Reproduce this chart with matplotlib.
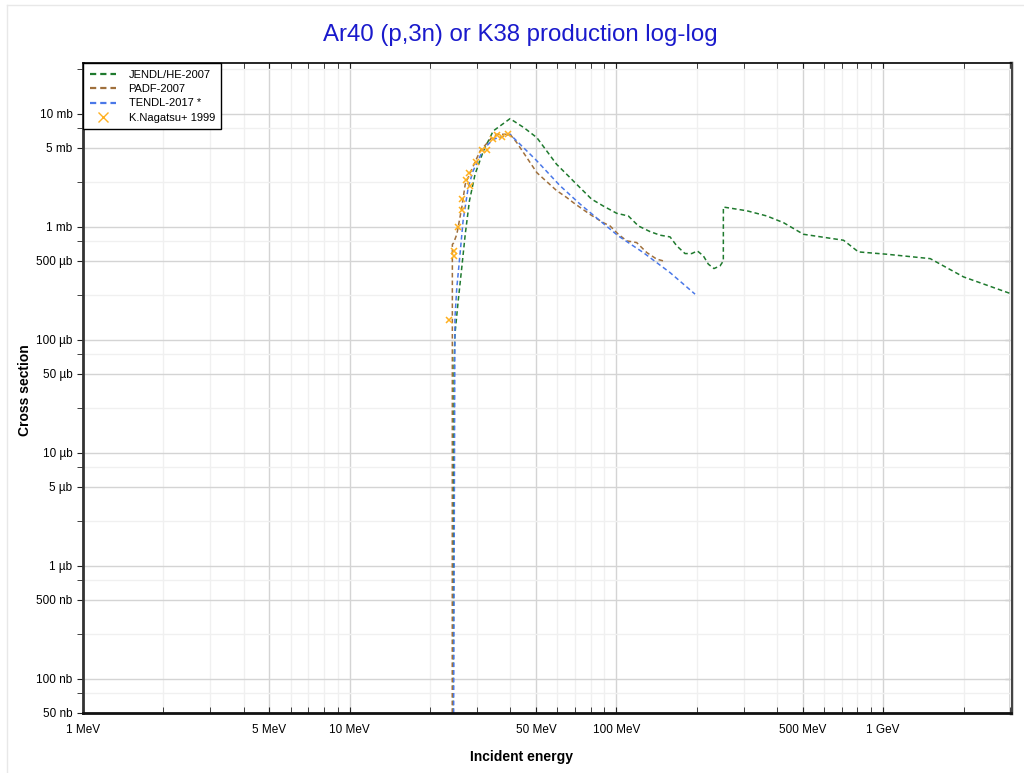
import numpy as np
import matplotlib
matplotlib.use("Agg")
import matplotlib.pyplot as plt
from matplotlib.ticker import FixedLocator, FuncFormatter, NullFormatter
from matplotlib.lines import Line2D

plt.rcParams['font.family'] = ['Liberation Sans', 'DejaVu Sans']

# energies in MeV, cross sections in mb
jendl_e = [24.15, 24.6, 24.8, 25.5, 26.3, 27.1, 28.1, 29.5, 31.7, 34.5, 39.9, 45.0, 50.3, 59.6, 67.0,
           68.9, 80.7, 89.3, 100.2, 110.8, 120.8, 133.6, 145.7, 158.8, 168.3, 180.7, 191.5, 201.0,
           211.7, 221.0, 232.0, 244.5, 251.5, 251.6, 308.0, 366.0, 423.0, 502.0, 710.0, 807.0,
           1031.0, 1500.0, 2000.0, 3000.0]
jendl_s = [1e-9, 0.06, 0.113, 0.221, 0.436, 0.86, 1.70, 2.93, 4.7, 7.07, 9.09, 7.56, 6.17, 3.59, 2.73,
           2.55, 1.76, 1.53, 1.32, 1.25, 1.02, 0.909, 0.845, 0.816, 0.679, 0.581, 0.581, 0.613,
           0.554, 0.468, 0.428, 0.452, 0.50, 1.50, 1.39, 1.25, 1.09, 0.861, 0.762, 0.601,
           0.573, 0.524, 0.361, 0.257]

padf_e = [24.2, 24.25, 24.5, 25.2, 26.3, 27.1, 28.3, 30.8, 34.1, 35.6, 39.9, 42.3, 50.3, 59.6, 65.1,
          68.9, 79.6, 89.3, 94.6, 101.6, 109.3, 119.0, 129.9, 141.6, 150.0]
padf_s = [1e-9, 0.70, 0.72, 0.86, 1.48, 2.39, 3.02, 4.7, 6.17, 6.61, 6.61, 5.57, 3.02, 2.1, 1.82,
          1.64, 1.29, 1.09, 1.02, 0.861, 0.752, 0.727, 0.593, 0.518, 0.50]

tendl_e = [24.15, 24.8, 25.2, 25.9, 26.6, 27.8, 29.0, 31.7, 34.5, 39.9, 50.0, 61.5, 73.1, 86.9,
           101.6, 126.0, 158.8, 197.0]
tendl_s = [1e-9, 0.158, 0.29, 0.57, 1.13, 2.23, 3.13, 4.87, 5.97, 6.6, 3.9, 2.31, 1.59, 1.13,
           0.832, 0.593, 0.394, 0.254]

nagatsu_e = [23.6, 24.5, 24.6, 25.4, 26.4, 26.4, 27.2, 28.1, 28.3, 29.7, 31.2, 32.6, 34.3, 35.6,
             37.2, 39.3]
nagatsu_s = [0.150, 0.554, 0.617, 1.0, 1.41, 1.78, 2.59, 3.0, 2.29, 3.76, 4.83, 4.83, 6.01, 6.52,
             6.3, 6.65]

x_major = [1, 5, 10, 50, 100, 500, 1000]
x_minor = [2, 3, 4, 6, 7, 8, 9, 20, 30, 40, 60, 70, 80, 90, 200, 300, 400, 600, 700, 800, 900,
           2000, 3000]
y_major = [5e-5, 1e-4, 5e-4, 1e-3, 5e-3, 1e-2, 5e-2, 0.1, 0.5, 1, 5, 10]
y_minor = [2.5e-5, 7.5e-5, 2.5e-4, 7.5e-4, 2.5e-3, 7.5e-3, 2.5e-2, 7.5e-2, 0.25, 0.75, 2.5, 7.5, 25]


def fmt_e(v, pos=None):
    if v >= 1000:
        return "%g GeV" % round(v / 1000, 6)
    return "%g MeV" % round(v, 6)


def fmt_s(v, pos=None):
    if v >= 1:
        return "%g mb" % round(v, 6)
    if v >= 1e-3:
        return "%g µb" % round(v * 1e3, 6)
    return "%g nb" % round(v * 1e6, 6)


fig = plt.figure(figsize=(10.24, 7.73), dpi=100)
ax = fig.add_axes([83 / 1024, 1 - 712.7 / 773, (1011 - 83) / 1024, (712.7 - 63.3) / 773])

ax.set_xscale('log')
ax.set_yscale('log')
ax.set_xlim(1, 3013)
ax.set_ylim(5e-5, 28.1)

ax.xaxis.set_major_locator(FixedLocator(x_major))
ax.xaxis.set_minor_locator(FixedLocator(x_minor))
ax.xaxis.set_major_formatter(FuncFormatter(fmt_e))
ax.xaxis.set_minor_formatter(NullFormatter())
ax.yaxis.set_major_locator(FixedLocator(y_major))
ax.yaxis.set_minor_locator(FixedLocator(y_minor))
ax.yaxis.set_major_formatter(FuncFormatter(fmt_s))
ax.yaxis.set_minor_formatter(NullFormatter())

ax.grid(True, which='major', color='#d4d4d4', lw=1.0)
ax.grid(True, which='minor', color='#f0f0f0', lw=1.0)
ax.set_axisbelow(True)

ax.tick_params(axis='x', which='both', direction='in', top=True, bottom=True, length=4,
               labelsize=8.5, pad=8, color='#222222')
ax.tick_params(axis='y', which='both', direction='out', right=False, length=4,
               labelsize=8.5, color='#222222')

sec = ax.secondary_yaxis('right')
sec.yaxis.set_major_locator(FixedLocator(y_major))
sec.yaxis.set_minor_locator(FixedLocator(y_minor))
sec.yaxis.set_major_formatter(NullFormatter())
sec.yaxis.set_minor_formatter(NullFormatter())
sec.tick_params(axis='y', which='both', direction='in', length=4, color='#222222')
sec.spines['right'].set_linewidth(2.5)
sec.spines['right'].set_color('#444444')

ax.spines['left'].set_linewidth(2.0)
ax.spines['left'].set_color('#333333')
ax.spines['bottom'].set_linewidth(2.0)
ax.spines['bottom'].set_color('#111111')
ax.spines['top'].set_linewidth(1.2)
ax.spines['right'].set_visible(False)

dash = (0, (3, 2))
ax.plot(jendl_e, jendl_s, color='#1f7a2e', lw=1.1, ls=dash)
ax.plot(padf_e, padf_s, color='#a0703c', lw=1.1, ls=dash)
ax.plot(tendl_e, tendl_s, color='#4a78e8', lw=1.1, ls=dash)
ax.plot(nagatsu_e, nagatsu_s, ls='none', marker='x', color='#ffb020', ms=5, mew=1.1)

leg_dash = (0, (2.8, 1.8))
handles = [
    Line2D([], [], color='#1f7a2e', lw=1.6, ls=leg_dash),
    Line2D([], [], color='#a0703c', lw=1.6, ls=leg_dash),
    Line2D([], [], color='#4a78e8', lw=1.6, ls=leg_dash),
    Line2D([], [], ls='none', marker='x', color='#ffb020', ms=7, mew=1.0),
]
labels = ['JENDL/HE-2007', 'PADF-2007', 'TENDL-2017 *', 'K.Nagatsu+ 1999']
leg = ax.legend(handles, labels, loc='upper left', bbox_to_anchor=(0, 1), borderaxespad=0,
                fancybox=False, edgecolor='black', framealpha=1, fontsize=8,
                handlelength=2.4, handletextpad=1.1, labelspacing=0.38, borderpad=0.6)
leg.get_frame().set_linewidth(1.0)

fig.text(520 / 1024, 1 - 35 / 773, 'Ar40 (p,3n) or K38 production log-log', color='#1a1acc',
         fontsize=17.3, ha='center', va='center')
fig.text(522 / 1024, 1 - 757 / 773, 'Incident energy', fontsize=10, fontweight='bold',
         ha='center', va='center')
fig.text(25 / 1024, 1 - 390 / 773, 'Cross section', fontsize=10, fontweight='bold',
         ha='center', va='center', rotation=90)

fig.add_artist(Line2D([7 / 1024, 7 / 1024], [0, 1 - 5 / 773], transform=fig.transFigure,
                      color='#e8e8e8', lw=1))
fig.add_artist(Line2D([7 / 1024, 1], [1 - 5 / 773, 1 - 5 / 773], transform=fig.transFigure,
                      color='#e8e8e8', lw=1))

fig.savefig('out.png', dpi=100)
